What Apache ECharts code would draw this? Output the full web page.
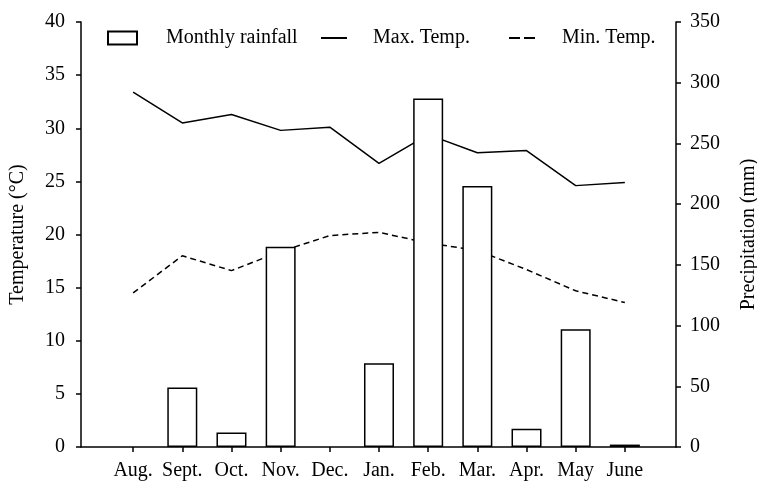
<!DOCTYPE html>
<html>
<head>
<meta charset="utf-8">
<script src="https://cdn.jsdelivr.net/npm/echarts@6/dist/echarts.min.js"></script>
<style>
  html, body { margin: 0; padding: 0; background: #fff; }
  #chart { width: 757px; height: 486px; }
</style>
</head>
<body>
<div id="chart"></div>
<script>
// Monthly climate record: rainfall bars with max / min temperature lines
var months = ['Aug.', 'Sept.', 'Oct.', 'Nov.', 'Dec.', 'Jan.', 'Feb.', 'Mar.', 'Apr.', 'May', 'June'];
var rainfall = [0, 49, 12, 165, 0, 69, 287, 215, 15, 97, 2];
var maxTemp = [33.4, 30.5, 31.3, 29.8, 30.1, 26.7, 29.4, 27.7, 27.9, 24.6, 24.9];
var minTemp = [14.5, 18.0, 16.6, 18.4, 19.9, 20.2, 19.2, 18.5, 16.7, 14.7, 13.6];
var tempTicks = [0, 5, 10, 15, 20, 25, 30, 35, 40];
var rainTicks = [0, 50, 100, 150, 200, 250, 300, 350];

var FONT = 'Liberation Serif';
var FS = 20;
var positions = months.map(function (_, i) { return i; });
// months without rain get no bar at all
function pairs(arr, skipZero) {
  return arr.map(function (v, i) { return [i, (skipZero && v === 0) ? null : v]; });
}

var lineStyleAxis = { color: '#000', width: 1.5 };
var textBase = { fontFamily: FONT, fontSize: FS, color: '#000' };

var chart = echarts.init(document.getElementById('chart'), null, { renderer: 'canvas' });
chart.setOption({
  animation: false,
  backgroundColor: '#fff',
  grid: { left: 81, right: 81, top: 22, bottom: 39, containLabel: false, outerBoundsMode: 'none' },
  legend: [
    {
      left: 107, top: 28, padding: 0, itemWidth: 29, itemHeight: 13, itemGap: 0,
      data: [{ name: 'Monthly rainfall', icon: 'rect' }],
      textStyle: Object.assign({ padding: [0, 0, 0, 24] }, textBase)
    },
    {
      left: 321, top: 28, padding: 0, itemWidth: 26, itemHeight: 2, itemGap: 0,
      data: [{ name: 'Max. Temp.', icon: 'rect' }],
      itemStyle: { color: '#000', borderWidth: 0 },
      textStyle: Object.assign({ padding: [0, 0, 0, 21] }, textBase)
    },
    {
      left: 509, top: 28, padding: 0, itemWidth: 26, itemHeight: 2, itemGap: 0,
      data: [{ name: 'Min. Temp.', icon: 'path://M0,0h11v2h-11z M15,0h11v2h-11z' }],
      itemStyle: { color: '#000', borderWidth: 0 },
      textStyle: Object.assign({ padding: [0, 0, 0, 22] }, textBase)
    }
  ],
  xAxis: {
    type: 'value',
    min: -1.06,
    max: 11.04,
    splitLine: { show: false },
    axisLine: { show: true, onZero: false, lineStyle: lineStyleAxis },
    axisTick: { show: true, length: 5, customValues: positions, lineStyle: lineStyleAxis },
    axisLabel: Object.assign({
      customValues: positions,
      margin: 14,
      formatter: function (v) { return months[Math.round(v)]; }
    }, textBase)
  },
  yAxis: [
    {
      type: 'value',
      position: 'left',
      min: tempTicks[0],
      max: tempTicks[tempTicks.length - 1],
      interval: 5,
      name: 'Temperature (°C)',
      nameLocation: 'middle',
      nameRotate: 90,
      nameGap: 53,
      nameTextStyle: textBase,
      splitLine: { show: false },
      axisLine: { show: true, onZero: false, lineStyle: lineStyleAxis },
      axisTick: { show: true, length: 5, lineStyle: lineStyleAxis },
      axisLabel: Object.assign({ margin: 16 }, textBase)
    },
    {
      type: 'value',
      position: 'right',
      min: rainTicks[0],
      max: rainTicks[rainTicks.length - 1],
      interval: 50,
      name: 'Precipitation (mm)',
      nameLocation: 'middle',
      nameRotate: 90,
      nameGap: 63,
      nameTextStyle: textBase,
      splitLine: { show: false },
      axisLine: { show: true, onZero: false, lineStyle: lineStyleAxis },
      axisTick: { show: true, length: 5, lineStyle: lineStyleAxis },
      axisLabel: Object.assign({ margin: 14 }, textBase)
    }
  ],
  series: [
    {
      name: 'Monthly rainfall',
      type: 'bar',
      yAxisIndex: 1,
      barWidth: 30,
      z: 5,
      itemStyle: { color: '#fff', borderColor: '#000', borderWidth: 1.5 },
      data: pairs(rainfall, true)
    },
    {
      name: 'Max. Temp.',
      type: 'line',
      yAxisIndex: 0,
      symbol: 'none',
      z: 2,
      lineStyle: { color: '#000', width: 1.5, type: 'solid' },
      itemStyle: { color: '#000' },
      data: pairs(maxTemp, false)
    },
    {
      name: 'Min. Temp.',
      type: 'line',
      yAxisIndex: 0,
      symbol: 'none',
      z: 2,
      lineStyle: { color: '#000', width: 1.5, type: [6, 4] },
      itemStyle: { color: '#000' },
      data: pairs(minTemp, false)
    }
  ]
});
</script>
</body>
</html>
